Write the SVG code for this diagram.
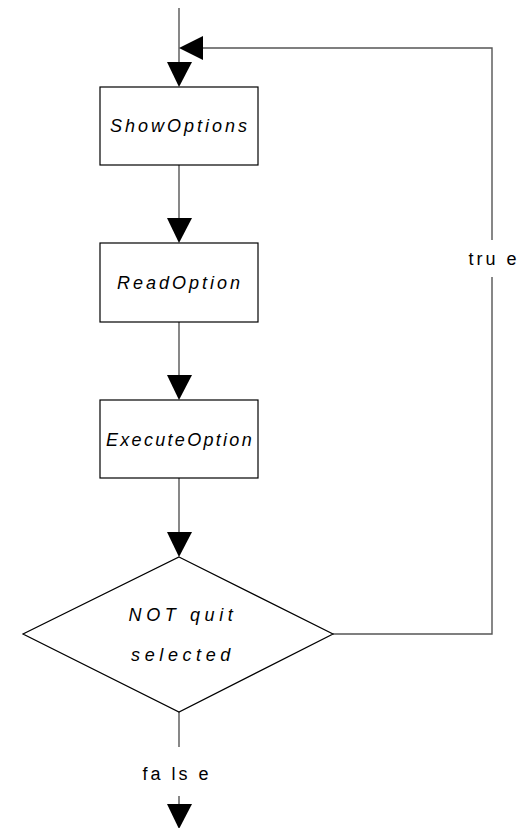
<svg xmlns="http://www.w3.org/2000/svg" width="524" height="828" viewBox="0 0 524 828">
  <style>
    .box { fill: #ffffff; stroke: #000000; stroke-width: 1.2; }
    .wire { fill: none; stroke: #555555; stroke-width: 1.4; }
    .head { fill: #000000; stroke: none; }
    .lbl { font-family: "Liberation Sans", Arial, sans-serif; font-size: 18px; font-style: italic; letter-spacing: 3px; fill: #000000; text-anchor: middle; }
    .wide { letter-spacing: 4.6px; }
    .tight { letter-spacing: 2.3px; }
    .edge { font-family: "Liberation Sans", Arial, sans-serif; font-size: 18px; letter-spacing: 3px; fill: #000000; text-anchor: middle; }
  </style>
  <rect width="524" height="828" fill="#ffffff"/>

  <g id="connectors">
    <!-- entry into the loop -->
    <line class="wire" x1="179" y1="8" x2="179" y2="64"/>
    <polygon class="head" points="167,62 192,62 179,87"/>
    <!-- ShowOptions -> ReadOption -->
    <line class="wire" x1="179" y1="165" x2="179" y2="220"/>
    <polygon class="head" points="167,218 192,218 179,243"/>
    <!-- ReadOption -> ExecuteOption -->
    <line class="wire" x1="179" y1="322" x2="179" y2="377"/>
    <polygon class="head" points="167,375 192,375 179,400"/>
    <!-- ExecuteOption -> decision -->
    <line class="wire" x1="179" y1="478" x2="179" y2="534"/>
    <polygon class="head" points="167,532 192,532 179,557"/>
    <!-- true branch back to the top -->
    <polyline class="wire" points="333,634 492,634 492,277"/>
    <polyline class="wire" points="492,240 492,48 201,48"/>
    <polygon class="head" points="203,36 203,60 179,48"/>
    <text class="edge" x="494" y="265">tru e</text>
    <!-- false branch exit -->
    <line class="wire" x1="179" y1="712" x2="179" y2="747"/>
    <text class="edge" x="177" y="780">fa ls e</text>
    <line class="wire" x1="179" y1="796" x2="179" y2="806"/>
    <polygon class="head" points="167,804 192,804 179,829"/>
  </g>

  <g id="show-options">
    <rect class="box" x="100" y="87" width="158" height="78"/>
    <text class="lbl" x="180" y="132">ShowOptions</text>
  </g>

  <g id="read-option">
    <rect class="box" x="100" y="243" width="158" height="79"/>
    <text class="lbl" x="180" y="289">ReadOption</text>
  </g>

  <g id="execute-option">
    <rect class="box" x="100" y="400" width="158" height="78"/>
    <text class="lbl tight" x="180" y="446">ExecuteOption</text>
  </g>

  <g id="quit-check">
    <polygon class="box" points="179,557 333,634 179,712 23,634"/>
    <text class="lbl wide" x="183" y="621">NOT quit</text>
    <text class="lbl wide" x="183" y="661">selected</text>
  </g>
</svg>
